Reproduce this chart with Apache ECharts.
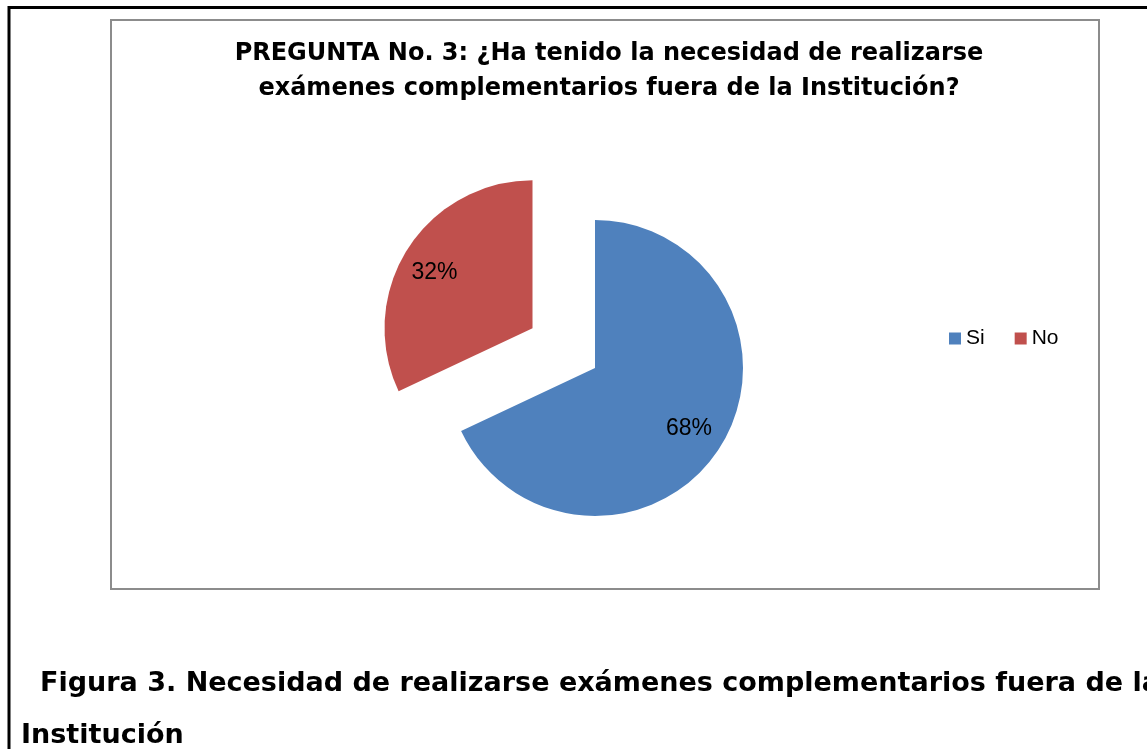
<!DOCTYPE html>
<html>
<head>
<meta charset="utf-8">
<script src="https://cdn.jsdelivr.net/npm/echarts@6/dist/echarts.min.js"></script>
<style>
  html, body { margin: 0; padding: 0; background: #fff; }
  #chart { width: 1147px; height: 749px; }
</style>
</head>
<body>
<div id="chart"></div>
<script>
// datos de la pregunta 3
const categories = ['Si', 'No'];
const values = [68, 32];
const colors = ['#4F81BD', '#C0504D'];

const titleLines = [
  'PREGUNTA No. 3: ¿Ha tenido la necesidad de realizarse',
  'exámenes complementarios fuera de la Institución?'
];
const captionLines = [
  'Figura 3. Necesidad de realizarse exámenes complementarios fuera de la',
  'Institución'
];

// etiqueta empujada hacia afuera (solo posicion de texto)
const labelOffsets = [[29, 19], [-33, -14]];

const pieData = categories.map(function (name, i) {
  return {
    name: name,
    value: values[i],
    selected: name === 'No',
    itemStyle: { color: colors[i] },
    label: { offset: labelOffsets[i] },
    select: {
      itemStyle: { color: colors[i] },
      label: { offset: labelOffsets[i] }
    }
  };
});

const chart = echarts.init(document.getElementById('chart'));

const option = {
  animation: false,
  backgroundColor: '#fff',
  title: {
    text: titleLines.join('\n'),
    left: 604,
    top: 31,
    textAlign: 'center',
    textStyle: {
      fontFamily: '"DejaVu Sans", sans-serif',
      fontWeight: 'bold',
      fontSize: 24,
      lineHeight: 35,
      color: '#000'
    }
  },
  legend: {
    data: categories,
    left: 944,
    top: 323,
    icon: 'rect',
    itemWidth: 12,
    itemHeight: 12,
    itemGap: 30,
    selectedMode: false,
    textStyle: {
      fontFamily: '"Liberation Sans", Arial, sans-serif',
      fontSize: 21,
      color: '#000'
    }
  },
  graphic: [
    // marco exterior (tabla del documento)
    { type: 'line', shape: { x1: 9, y1: 7.5, x2: 1147, y2: 7.5 }, style: { stroke: '#000', lineWidth: 3 } },
    { type: 'line', shape: { x1: 9, y1: 6, x2: 9, y2: 749 }, style: { stroke: '#000', lineWidth: 3 } },
    // marco del grafico
    { type: 'rect', shape: { x: 111, y: 20, width: 988, height: 569 }, style: { fill: 'none', stroke: '#8c8c8c', lineWidth: 2 } },
    {
      type: 'text', left: 40, top: 670,
      style: { text: captionLines[0], font: 'bold 27px "DejaVu Sans", sans-serif', fill: '#000' }
    },
    {
      type: 'text', left: 21, top: 722,
      style: { text: captionLines[1], font: 'bold 27px "DejaVu Sans", sans-serif', fill: '#000' }
    }
  ],
  series: [
    {
      type: 'pie',
      center: [595, 368],
      radius: 148,
      startAngle: 90,
      clockwise: true,
      selectedMode: 'single',
      selectedOffset: 74,
      avoidLabelOverlap: false,
      label: {
        show: true,
        position: 'inside',
        formatter: '{c}%',
        fontFamily: '"Liberation Sans", Arial, sans-serif',
        fontSize: 23,
        color: '#000'
      },
      labelLine: { show: false },
      itemStyle: { borderWidth: 0 },
      emphasis: { disabled: true },
      data: pieData
    }
  ]
};

chart.setOption(option);
window.onresize = function () {
  chart.resize();
};
</script>
</body>
</html>
